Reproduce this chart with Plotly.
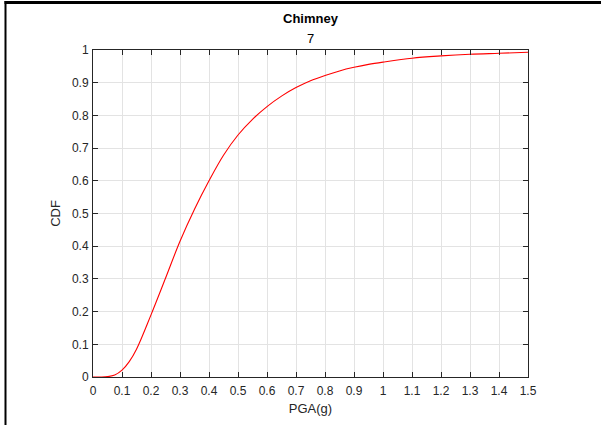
import plotly.graph_objects as go

# Values
pga = [0, 0.025, 0.05, 0.075, 0.1, 0.125, 0.15, 0.2, 0.25, 0.3, 0.35, 0.4, 0.45, 0.5,
       0.55, 0.6, 0.65, 0.7, 0.75, 0.8, 0.85, 0.9, 0.95, 1.0, 1.1, 1.2, 1.3, 1.4, 1.5]
cdf = [0, 0.0, 0.001, 0.006, 0.021, 0.047, 0.085, 0.19, 0.302, 0.415, 0.513, 0.6,
       0.678, 0.74, 0.788, 0.827, 0.859, 0.885, 0.906, 0.922, 0.936, 0.947, 0.956,
       0.963, 0.975, 0.982, 0.987, 0.99, 0.993]

x_ticks = [0, 0.1, 0.2, 0.3, 0.4, 0.5, 0.6, 0.7, 0.8, 0.9, 1, 1.1, 1.2, 1.3, 1.4, 1.5]
x_tick_labels = ["0", "0.1", "0.2", "0.3", "0.4", "0.5", "0.6", "0.7", "0.8", "0.9",
                 "1", "1.1", "1.2", "1.3", "1.4", "1.5"]
y_ticks = [0, 0.1, 0.2, 0.3, 0.4, 0.5, 0.6, 0.7, 0.8, 0.9, 1]
y_tick_labels = ["0", "0.1", "0.2", "0.3", "0.4", "0.5", "0.6", "0.7", "0.8", "0.9", "1"]

title_main = "Chimney"
title_sub = "7"

W, H = 601, 425
L, R, T, B = 93, 73, 50, 48
pw, ph = W - L - R, H - T - B

def px_to_paper_x(px):
    return (px - L) / pw

def py_to_paper_y(py):
    return (H - B - py) / ph

font_family = "Liberation Sans, Arial, sans-serif"
axis_col = "#262626"

fig = go.Figure()
fig.add_trace(go.Scatter(
    x=pga, y=cdf, mode="lines",
    line=dict(color="#ff0000", width=1.1, shape="spline", smoothing=1.0),
    showlegend=False, hoverinfo="x+y",
))

axis_common = dict(
    showline=True, linecolor=axis_col, linewidth=1,
    mirror="ticks", ticks="inside", ticklen=5, tickcolor=axis_col, tickwidth=1,
    showgrid=True, gridcolor="#e3e3e3", gridwidth=1,
    zeroline=False,
    tickfont=dict(family=font_family, size=12, color=axis_col),
)

fig.update_xaxes(
    range=[0, 1.5], tickmode="array", tickvals=x_ticks, ticktext=x_tick_labels,
    ticklabelstandoff=3,
    title=dict(text="PGA(g)", font=dict(family=font_family, size=13, color=axis_col), standoff=6),
    **axis_common,
)
fig.update_yaxes(
    range=[0, 1], tickmode="array", tickvals=y_ticks, ticktext=y_tick_labels,
    ticklabelstandoff=1,
    title=dict(text="CDF", font=dict(family=font_family, size=13, color=axis_col), standoff=8),
    **axis_common,
)

fig.update_layout(
    width=W, height=H,
    margin=dict(l=L, r=R, t=T, b=B, pad=0),
    plot_bgcolor="white", paper_bgcolor="white",
    annotations=[
        dict(text="<b>" + title_main + "</b>", x=0.5, y=py_to_paper_y(18),
             xref="paper", yref="paper", showarrow=False, xanchor="center", yanchor="middle",
             font=dict(family=font_family, size=13, color="black")),
        dict(text=title_sub, x=0.5, y=py_to_paper_y(38.5),
             xref="paper", yref="paper", showarrow=False, xanchor="center", yanchor="middle",
             font=dict(family=font_family, size=13, color="black")),
    ],
    shapes=[
        dict(type="line", xref="paper", yref="paper",
             x0=px_to_paper_x(4.5), x1=px_to_paper_x(W + 2),
             y0=py_to_paper_y(2.5), y1=py_to_paper_y(2.5),
             line=dict(color="black", width=3)),
        dict(type="line", xref="paper", yref="paper",
             x0=px_to_paper_x(5.5), x1=px_to_paper_x(5.5),
             y0=py_to_paper_y(1), y1=py_to_paper_y(H + 2),
             line=dict(color="black", width=2)),
    ],
)

fig.write_html(
    "out.html",
    config={"displayModeBar": False},
    post_script="document.body.style.margin='0';document.body.style.overflow='hidden';",
)
